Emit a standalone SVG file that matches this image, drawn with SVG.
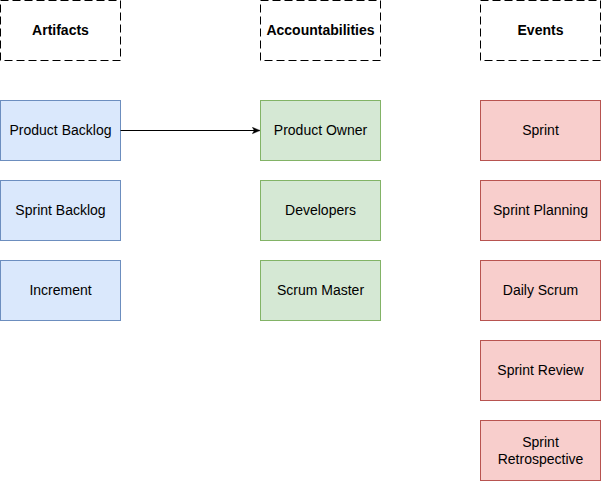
<svg xmlns="http://www.w3.org/2000/svg" width="601" height="481" viewBox="0 0 601 481">
<defs>
<style>
text{font-family:"Liberation Sans",Arial,sans-serif;font-size:14px;fill:#000;text-anchor:middle;dominant-baseline:central}
.h rect{fill:#fff;stroke:#000;stroke-dasharray:8 4}
.h text{font-weight:bold}
.b rect{fill:#dae8fc;stroke:#6c8ebf}
.g rect{fill:#d5e8d4;stroke:#82b366}
.r rect{fill:#f8cecc;stroke:#b85450}
</style>
<marker id="arr" viewBox="0 0 10 10" refX="9" refY="5" markerWidth="8" markerHeight="8" markerUnits="userSpaceOnUse" orient="auto">
<path d="M0,1 L10,5 L0,9 L2.5,5 Z" fill="#000" stroke="#000" stroke-width="0.5"/>
</marker>
</defs>
<g id="artifacts" class="h"><rect x="0.5" y="0.5" width="120" height="60"/><text x="60.5" y="30">Artifacts</text></g>
<g id="accountabilities" class="h"><rect x="260.5" y="0.5" width="120" height="60"/><text x="320.5" y="30">Accountabilities</text></g>
<g id="events" class="h"><rect x="480.5" y="0.5" width="120" height="60"/><text x="540.5" y="30">Events</text></g>
<g id="product-backlog" class="b"><rect x="0.5" y="100.5" width="120" height="60"/><text x="60.5" y="130">Product Backlog</text></g>
<g id="sprint-backlog" class="b"><rect x="0.5" y="180.5" width="120" height="60"/><text x="60.5" y="210">Sprint Backlog</text></g>
<g id="increment" class="b"><rect x="0.5" y="260.5" width="120" height="60"/><text x="60.5" y="290">Increment</text></g>
<g id="product-owner" class="g"><rect x="260.5" y="100.5" width="120" height="60"/><text x="320.5" y="130">Product Owner</text></g>
<g id="developers" class="g"><rect x="260.5" y="180.5" width="120" height="60"/><text x="320.5" y="210">Developers</text></g>
<g id="scrum-master" class="g"><rect x="260.5" y="260.5" width="120" height="60"/><text x="320.5" y="290">Scrum Master</text></g>
<g id="sprint" class="r"><rect x="480.5" y="100.5" width="120" height="60"/><text x="540.5" y="130">Sprint</text></g>
<g id="sprint-planning" class="r"><rect x="480.5" y="180.5" width="120" height="60"/><text x="540.5" y="210">Sprint Planning</text></g>
<g id="daily-scrum" class="r"><rect x="480.5" y="260.5" width="120" height="60"/><text x="540.5" y="290">Daily Scrum</text></g>
<g id="sprint-review" class="r"><rect x="480.5" y="340.5" width="120" height="60"/><text x="540.5" y="370">Sprint Review</text></g>
<g id="sprint-retrospective" class="r"><rect x="480.5" y="420.5" width="120" height="60"/><text x="540.5" y="442">Sprint</text><text x="540.5" y="459">Retrospective</text></g>
<g id="connectors"><line x1="120.5" y1="130.5" x2="259.5" y2="130.5" stroke="#000" marker-end="url(#arr)"/></g>
</svg>
